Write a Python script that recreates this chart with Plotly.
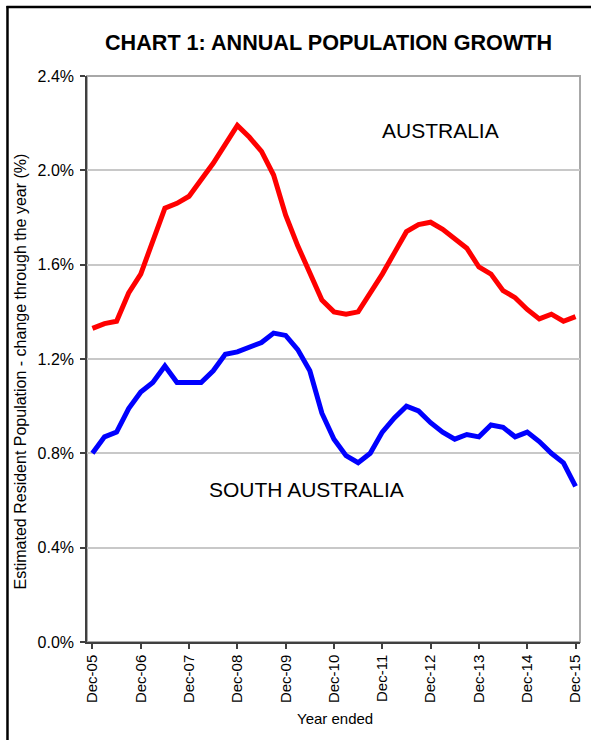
import plotly.graph_objects as go

# Quarterly observations, Dec-05 .. Dec-15 (41 quarters)
quarter_index = list(range(41))
tick_positions = [0, 4, 8, 12, 16, 20, 24, 28, 32, 36, 40]
tick_labels = ["Dec-05", "Dec-06", "Dec-07", "Dec-08", "Dec-09", "Dec-10",
               "Dec-11", "Dec-12", "Dec-13", "Dec-14", "Dec-15"]

australia = [1.33, 1.35, 1.36, 1.48, 1.56, 1.70, 1.84, 1.86, 1.89, 1.96, 2.03,
             2.11, 2.19, 2.14, 2.08, 1.98, 1.81, 1.68, 1.57, 1.45, 1.40,
             1.39, 1.40, 1.48, 1.56, 1.65, 1.74, 1.77, 1.78, 1.75, 1.71,
             1.67, 1.59, 1.56, 1.49, 1.46, 1.41, 1.37, 1.39, 1.36, 1.38]

south_australia = [0.80, 0.87, 0.89, 0.99, 1.06, 1.10, 1.17, 1.10, 1.10, 1.10, 1.15,
                   1.22, 1.23, 1.25, 1.27, 1.31, 1.30, 1.24, 1.15, 0.97, 0.86,
                   0.79, 0.76, 0.80, 0.89, 0.95, 1.00, 0.98, 0.93, 0.89, 0.86,
                   0.88, 0.87, 0.92, 0.91, 0.87, 0.89, 0.85, 0.80, 0.76, 0.66]

y_ticks = [0.0, 0.4, 0.8, 1.2, 1.6, 2.0, 2.4]

FONT = "Liberation Sans, Arial, sans-serif"

fig = go.Figure()
fig.add_trace(go.Scatter(x=quarter_index, y=australia, mode="lines",
                         line=dict(color="#FF0000", width=5), name="Australia",
                         hoverinfo="skip"))
fig.add_trace(go.Scatter(x=quarter_index, y=south_australia, mode="lines",
                         line=dict(color="#0000FF", width=5), name="South Australia",
                         hoverinfo="skip"))

W, H = 591, 740
L, R, T, B = 87, 8, 76, 98
pw, ph = W - L - R, H - T - B

def px_x(p):
    return (p - L) / pw

def px_y(p):
    return (H - B - p) / ph

fig.update_layout(
    width=W, height=H,
    margin=dict(l=L, r=R, t=T, b=B),
    paper_bgcolor="white", plot_bgcolor="white",
    showlegend=False,
    font=dict(family=FONT, color="black"),
    title=dict(text="<b>CHART 1: ANNUAL POPULATION GROWTH</b>",
               font=dict(size=21.6, family=FONT, color="black"),
               x=px_x(330), xref="paper", xanchor="center",
               y=1 - 42 / H, yref="container", yanchor="middle"),
    xaxis=dict(range=[-0.45, 40.37], tickvals=tick_positions, ticktext=tick_labels,
               tickangle=-90, showgrid=False, zeroline=False,
               showline=True, linecolor="#404040", linewidth=1.5,
               ticks="outside", ticklen=5, tickcolor="#404040", tickwidth=1.5,
               tickfont=dict(size=15, family=FONT, color="black")),
    yaxis=dict(range=[0, 2.4], tickvals=y_ticks, ticktext=[f"{v:.1f}%" for v in y_ticks],
               showgrid=True, gridcolor="#c8c8c8", gridwidth=1.5, zeroline=False,
               showline=True, linecolor="#404040", linewidth=1.5,
               ticks="outside", ticklen=5, tickcolor="#404040", tickwidth=1.5,
               ticklabelstandoff=3,
               tickfont=dict(size=16, family=FONT, color="black")),
    shapes=[
        dict(type="rect", xref="paper", yref="paper", x0=0, y0=0, x1=1, y1=1,
             line=dict(color="#a8a8a8", width=2), layer="below"),
        dict(type="line", xref="paper", yref="paper",
             x0=px_x(6), x1=px_x(W + 5), y0=px_y(7), y1=px_y(7),
             line=dict(color="black", width=2.5)),
        dict(type="line", xref="paper", yref="paper",
             x0=px_x(7), x1=px_x(7), y0=px_y(6), y1=px_y(H + 5),
             line=dict(color="black", width=2.5)),
    ],
    annotations=[
        dict(text="AUSTRALIA", x=28.8, y=2.17, xref="x", yref="y",
             showarrow=False, font=dict(size=21, family=FONT, color="black")),
        dict(text="SOUTH AUSTRALIA", x=17.7, y=0.645, xref="x", yref="y",
             showarrow=False, font=dict(size=21, family=FONT, color="black")),
        dict(text="Estimated Resident Population - change through the year (%)",
             textangle=-90, x=px_x(21), y=px_y(371), xref="paper", yref="paper",
             xanchor="center", yanchor="middle", showarrow=False,
             font=dict(size=16, family=FONT, color="black")),
        dict(text="Year ended", x=px_x(337), y=px_y(718), xref="paper", yref="paper",
             xanchor="center", yanchor="middle", showarrow=False,
             font=dict(size=15, family=FONT, color="black")),
    ],
)

fig.write_html("out.html",
               config={"displayModeBar": False},
               post_script="document.body.style.margin='0';document.body.style.overflow='hidden';")
